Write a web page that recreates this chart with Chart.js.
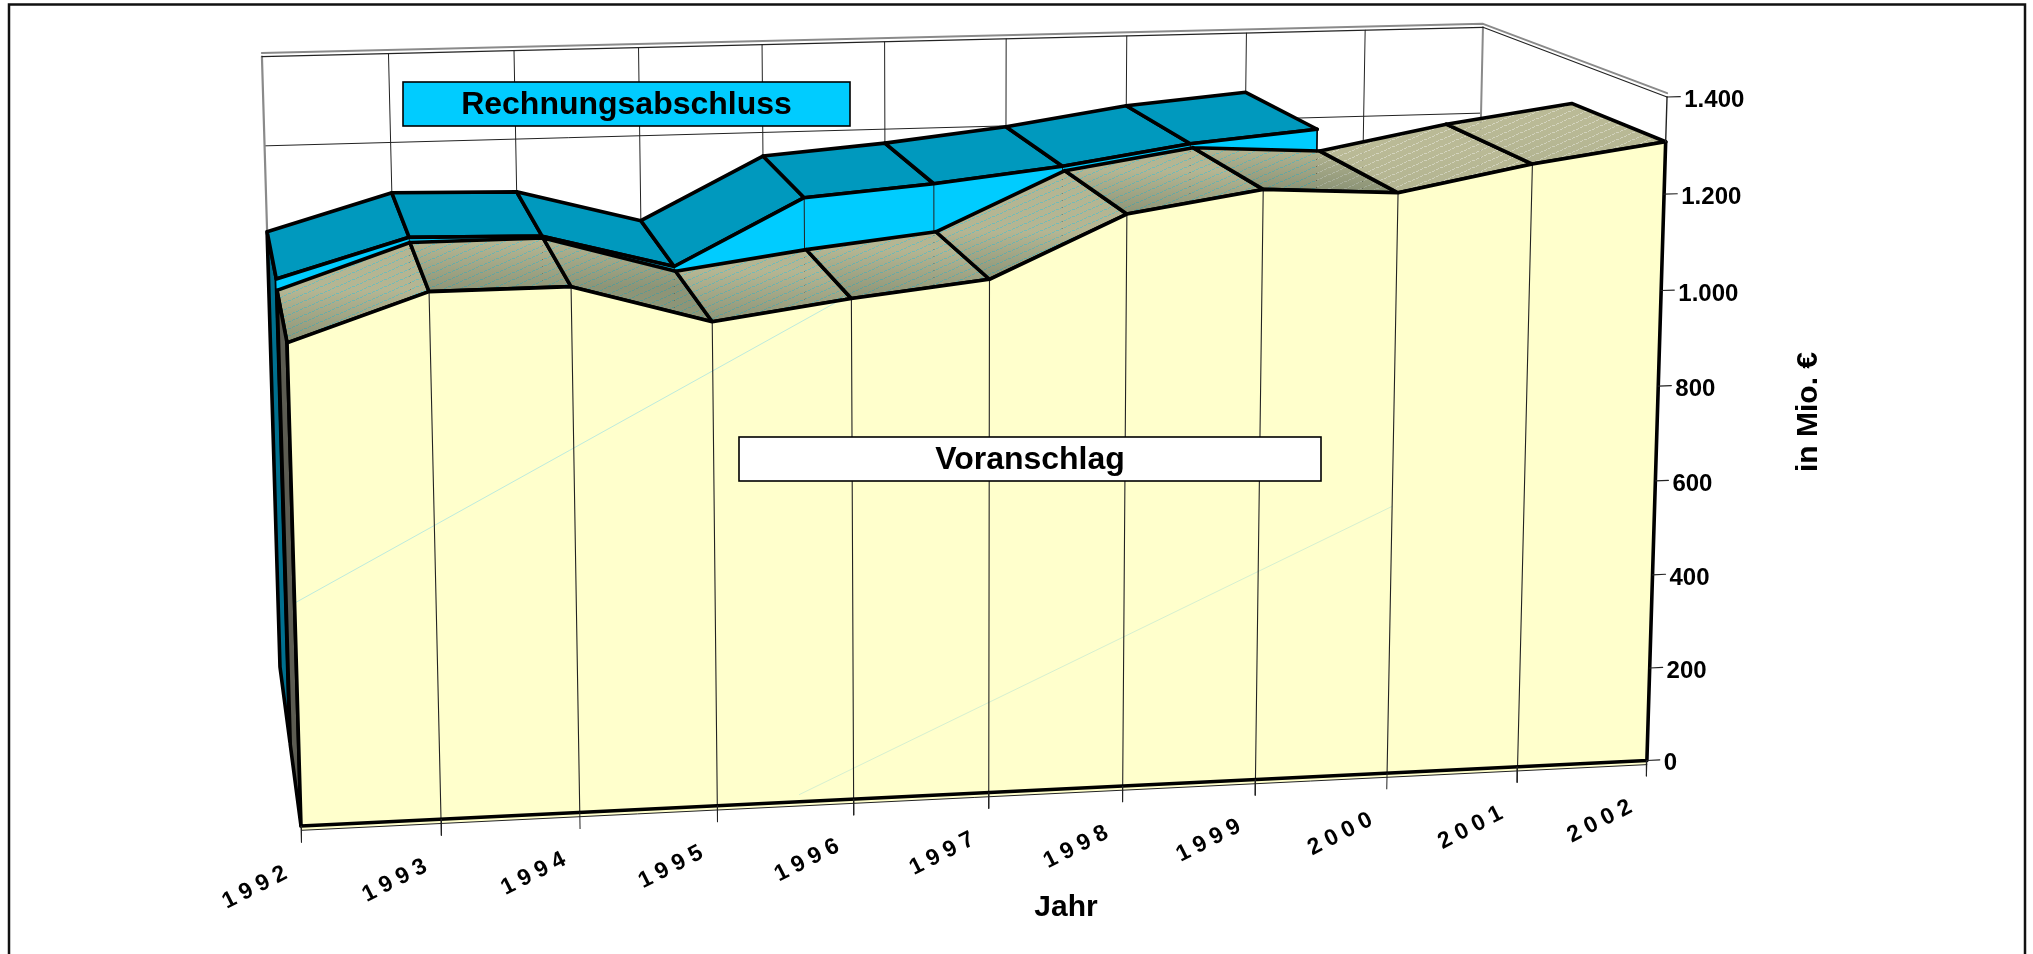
<!DOCTYPE html>
<html lang="de">
<head>
<meta charset="utf-8">
<title>Voranschlag und Rechnungsabschluss</title>
<style>html,body{margin:0;padding:0;background:#fff}canvas{display:block}</style>
<script src="https://cdn.jsdelivr.net/npm/chart.js@4/dist/chart.umd.js"></script>
</head>
<body>
<canvas id="c" width="2033" height="954"></canvas>
<script>
// ---- data (Mio. €) ----
const years = ['1992','1993','1994','1995','1996','1997','1998','1999','2000','2001','2002'];
const voranschlag = [986,1079,1080,1000,1038,1068,1192,1234,1219,1270,1308];
const rechnungsabschluss = [1006,1086,1080,1006,1146,1168,1198,1239,1263,null,null];
const valueTicks = [0,200,400,600,800,1000,1200,1400];
const valueTickLabels = ['0','200','400','600','800','1.000','1.200','1.400'];
const seriesNames = ['Voranschlag','Rechnungsabschluss'];
const xTitle = 'Jahr';
const yTitle = 'in Mio. €';

// ---- 3D perspective of the plot box: category index, value, depth (0 front .. 1 back) ----
const VMAX = 1400, LAST = years.length - 1;
function project(i, v, d) {
  const u = i / LAST, t = v / VMAX;
  const w = 1 + 0.045 * u - 0.0296 * t + 0.1379 * d;
  return {
    x: (301 + 1420 * u - 28.3 * t + 17.6 * d) / w,
    y: (826 - 31.3 * u - 696.2 * t - 67 * d) / w
  };
}
const P = (a) => project(a[0], a[1], a[2]);

const D = { vFront: 0, vBack: 0.48, rFront: 0.5, rBack: 1 };
const C = {
  wall: '#222222', wallEdge: '#8a8a8a', ink: '#000000',
  rTop: '#0099BE', rFront: '#00CCFF', rCap: '#00708F',
  vFront: '#FFFFCC', vCap: '#5C5C52'
};
const RIDGE = 3.6;

const canvas = document.getElementById('c');
const ctx = canvas.getContext('2d');

// stippled, almost opaque surface of the front series' top
function makeStipple() {
  const t = document.createElement('canvas');
  t.width = 16; t.height = 7;
  const g = t.getContext('2d');
  g.fillStyle = 'rgb(187,187,151)';
  g.fillRect(0, 0, 16, 7);
  for (let x = 0; x < 16; x++) {
    if (x % 4 === 3) continue;
    g.clearRect(x, 6 - Math.floor(x * 7 / 16), 1, 1);
    g.fillStyle = 'rgba(187,187,151,0.62)';
    g.fillRect(x, 6 - Math.floor(x * 7 / 16), 1, 1);
  }
  return ctx.createPattern(t, 'repeat');
}
const stipple = makeStipple();

const layers = [];
function shape(pts, fill) {
  layers.push({ data: pts.map(P), showLine: true, fill: 'shape', backgroundColor: fill,
    borderColor: 'transparent', borderWidth: 0 });
}
function line(pts, color, width, dash) {
  layers.push({ data: pts.map(P), showLine: true, fill: false, borderColor: color,
    borderWidth: width, borderDash: dash || [] });
}
function outlined(pts, fill, color, width) {
  shape(pts, fill);
  line(pts.concat([pts[0]]), color, width);
}

// ---- walls ----
for (let i = 1; i < LAST; i++) line([[i, VMAX, 1], [i, 0, 1]], C.wall, 1);
valueTicks.slice(1, -1).forEach(v => line([[0, v, 1], [LAST, v, 1]], C.wall, 1));
line([[0, VMAX, 1], [0, 0, 1]], C.wallEdge, 2.2);
line([[LAST, VMAX, 1], [LAST, 0, 1]], C.wallEdge, 2);
line([[0, VMAX, 1], [LAST, VMAX, 1], [LAST, VMAX, 0]], C.wall, 1.2);
line([[0, VMAX + 8, 1], [LAST, VMAX + 8, 1], [LAST, VMAX + 8, 0]], C.wallEdge, 2);

// ---- back series: Rechnungsabschluss ----
const rLast = rechnungsabschluss.findLastIndex(v => v !== null);
outlined([[0, rechnungsabschluss[0], D.rBack], [0, rechnungsabschluss[0], D.rFront],
          [0, 0, D.rFront], [0, 0, D.rBack]], C.rCap, C.ink, RIDGE);
for (let i = 0; i < rLast; i++) {
  outlined([[i, rechnungsabschluss[i], D.rBack], [i + 1, rechnungsabschluss[i + 1], D.rBack],
            [i + 1, rechnungsabschluss[i + 1], D.rFront], [i, rechnungsabschluss[i], D.rFront]],
           C.rTop, C.ink, RIDGE);
}
const rRidge = rechnungsabschluss.slice(0, rLast + 1).map((v, i) => [i, v, D.rFront]);
shape(rRidge.concat([[rLast, 0, D.rFront], [0, 0, D.rFront]]), C.rFront);
for (let i = 1; i <= rLast; i++) line([[i, rechnungsabschluss[i], D.rFront], [i, 0, D.rFront]], C.wall, 1);
line([[rLast, rechnungsabschluss[rLast], D.rFront], [rLast, 0, D.rFront]], C.ink, 1.4);
line(rRidge, C.ink, RIDGE);

// ---- front series: Voranschlag ----
for (let i = 0; i < LAST; i++) {
  const q = [[i, voranschlag[i], D.vBack], [i + 1, voranschlag[i + 1], D.vBack],
             [i + 1, voranschlag[i + 1], D.vFront], [i, voranschlag[i], D.vFront]];
  shape(q, stipple);
  const a = P(q[0]), b = P(q[3]);
  const g = ctx.createLinearGradient(0, a.y, 0, b.y);
  const dark = i < 8 ? 0.3 : 0.06;
  g.addColorStop(0, 'rgba(35,60,45,' + (dark * 0.15) + ')');
  g.addColorStop(1, 'rgba(35,60,45,' + dark + ')');
  shape(q, g);
  line(q.concat([q[0]]), C.ink, RIDGE);
}
outlined([[0, voranschlag[0], D.vBack], [0, voranschlag[0], D.vFront],
          [0, 0, D.vFront], [0, 0, D.vBack]], C.vCap, C.ink, RIDGE);

// floor strip below the front face
shape([[0, 0, 0], [LAST, 0, 0], [LAST, -9, 0], [0, -9, 0]], C.vFront);
line([[0, -9, 0], [LAST, -9, 0]], C.wall, 1);

const vRidge = voranschlag.map((v, i) => [i, v, D.vFront]);
shape(vRidge.concat([[LAST, 0, 0], [0, 0, 0]]), C.vFront);
// faint diagonal traces on the front face
line([[0, 460, 0], [3.95, 1040, 0]], '#BDEBDD', 1);
line([[3.6, 15, 0], [8, 568, 0]], '#D6F0D0', 1);
for (let i = 1; i < LAST; i++) line([[i, voranschlag[i], 0], [i, 0, 0]], C.wall, 1.1);
line(vRidge, C.ink, RIDGE);
line([[0, voranschlag[0], 0], [0, 0, 0], [LAST, 0, 0], [LAST, voranschlag[LAST], 0]], C.ink, RIDGE);

// ---- axis furniture ----
line([[LAST, voranschlag[LAST], 0], [LAST, VMAX, 0]], C.wall, 1.4);
for (let i = 0; i <= LAST; i++) line([[i, 0, 0], [i, -34, 0]], C.wall, 1);
const TICK_OUT = LAST + 0.1;
valueTicks.forEach(v => line([[LAST, v, 0], [TICK_OUT, v, 0]], C.wall, 1.2));

// later layers paint over earlier ones
layers.forEach((l, k) => { l.order = layers.length - k; l.pointRadius = 0; l.tension = 0;
  l.borderJoinStyle = 'round'; l.borderCapStyle = 'round'; });

const FONT = '"Liberation Sans", Arial, sans-serif';
const labelsPlugin = {
  id: 'labels3d',
  beforeDraw(chart) {
    const g = chart.ctx;
    g.save();
    g.fillStyle = '#fff';
    g.fillRect(0, 0, 2033, 954);
    g.strokeStyle = '#111';
    g.lineWidth = 2.5;
    g.strokeRect(9, 4.5, 2016, 980);
    g.restore();
  },
  afterDatasetsDraw(chart) {
    const g = chart.ctx, sx = chart.scales.x, sy = chart.scales.y;
    const px = (p) => ({ x: sx.getPixelForValue(p.x), y: sy.getPixelForValue(p.y) });
    g.save();
    g.fillStyle = '#000';
    // value tick labels
    g.font = 'bold 24px ' + FONT;
    g.textAlign = 'left'; g.textBaseline = 'middle';
    valueTicks.forEach((v, k) => {
      const p = px(project(TICK_OUT, v, 0));
      g.fillText(valueTickLabels[k], p.x + 4, p.y + 4);
    });
    // rotated category labels
    g.font = 'bold 23px ' + FONT;
    g.textAlign = 'center';
    g.letterSpacing = '6px';
    years.forEach((y, i) => {
      const p = px(project(i, -34, 0));
      g.save();
      g.translate(p.x - 44, p.y + 44);
      g.rotate(-27 * Math.PI / 180);
      g.fillText(y, 0, 0);
      g.restore();
    });
    g.letterSpacing = '0px';
    // axis titles
    g.font = 'bold 30px ' + FONT;
    g.fillText(xTitle, 1066, 908);
    g.save();
    g.translate(1809, 412);
    g.rotate(-Math.PI / 2);
    g.fillText(yTitle, 0, 0);
    g.restore();
    // series captions
    const box = (text, x, y, w, h, fill) => {
      g.fillStyle = fill;
      g.fillRect(x, y, w, h);
      g.strokeStyle = '#000';
      g.lineWidth = 1.6;
      g.strokeRect(x, y, w, h);
      g.fillStyle = '#000';
      g.font = 'bold 32px ' + FONT;
      g.textAlign = 'center';
      g.fillText(text, x + w / 2, y + h / 2 + 1);
    };
    box(seriesNames[1], 403, 82, 447, 44, C.rFront);
    box(seriesNames[0], 739, 437, 582, 44, '#FFFFFF');
    g.restore();
  }
};

new Chart(canvas, {
  type: 'scatter',
  data: { datasets: layers },
  plugins: [labelsPlugin],
  options: {
    responsive: false,
    animation: false,
    events: [],
    layout: { padding: 0 },
    plugins: { legend: { display: false }, tooltip: { enabled: false }, title: { display: false } },
    scales: {
      x: { type: 'linear', min: 0, max: 2033, display: false },
      y: { type: 'linear', min: 0, max: 954, reverse: true, display: false }
    }
  }
});
</script>
</body>
</html>
